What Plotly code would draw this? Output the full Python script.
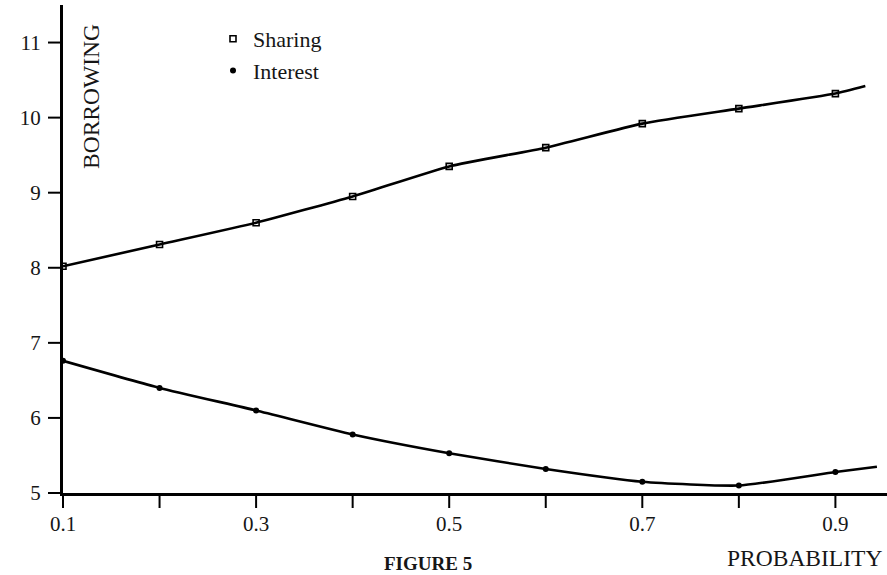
import plotly.graph_objects as go

# Probability values where each curve was evaluated
probability = [0.1, 0.2, 0.3, 0.4, 0.5, 0.6, 0.7, 0.8, 0.9]

# Borrowing under each contract type
sharing = [8.02, 8.31, 8.60, 8.95, 9.35, 9.60, 9.92, 10.12, 10.32]
interest = [6.76, 6.40, 6.10, 5.78, 5.53, 5.32, 5.15, 5.10, 5.28]

# Curves continue a little past the last marked point
sharing_tail = (0.931, 10.42)
interest_tail = (0.943, 5.35)

x_ticks = [0.1, 0.2, 0.3, 0.4, 0.5, 0.6, 0.7, 0.8, 0.9]
x_tick_text = ["0.1", "", "0.3", "", "0.5", "", "0.7", "", "0.9"]
y_ticks = [5, 6, 7, 8, 9, 10, 11]

SERIF = "Liberation Serif, Times New Roman, serif"
INK = "black"
TEXT = "#161616"

W, H = 887, 575
LEFT, BOTTOM, TOP = 63, 82, 5          # frame of the plotting box, px
X_RANGE = [0.1, 0.1 + (W - LEFT) / 965.5]
Y_RANGE = [5, 11.5]
PX_PER_X = (W - LEFT) / (X_RANGE[1] - X_RANGE[0])
PX_PER_Y = (H - BOTTOM - TOP) / (Y_RANGE[1] - Y_RANGE[0])
TICK_LEN = 15

fig = go.Figure()

# Smooth curves through every point
for ys, tail in ((sharing, sharing_tail), (interest, interest_tail)):
    fig.add_trace(go.Scatter(
        x=probability + [tail[0]], y=ys + [tail[1]],
        mode="lines", line=dict(color=INK, width=2.6, shape="spline", smoothing=0.5),
        showlegend=False, hoverinfo="skip",
    ))

# Point markers on the curves (these also provide the legend entries)
fig.add_trace(go.Scatter(
    x=probability, y=sharing, mode="markers", name="Sharing",
    marker=dict(symbol="square-open", size=6, color=INK, line=dict(width=1.6, color=INK)),
))
fig.add_trace(go.Scatter(
    x=probability, y=interest, mode="markers", name="Interest",
    marker=dict(symbol="circle", size=6, color=INK),
))

# Outward tick marks, drawn on a full-page companion axis pair that shares
# the data scale of the main axes but extends into the surrounding frame
tick_x, tick_y = [], []
for v in x_ticks:
    tick_x += [v, v, None]
    tick_y += [Y_RANGE[0], Y_RANGE[0] - TICK_LEN / PX_PER_Y, None]
for v in y_ticks:
    tick_x += [X_RANGE[0], X_RANGE[0] - TICK_LEN / PX_PER_X, None]
    tick_y += [v, v, None]
fig.add_trace(go.Scatter(
    x=tick_x, y=tick_y, xaxis="x2", yaxis="y2", mode="lines",
    line=dict(color=INK, width=2), showlegend=False, hoverinfo="skip",
))

fig.update_layout(
    width=W, height=H,
    margin=dict(l=0, r=0, t=0, b=0, pad=0),
    paper_bgcolor="white", plot_bgcolor="rgba(0,0,0,0)",
    font=dict(family=SERIF, size=21, color=TEXT),
    showlegend=True,
    legend=dict(
        x=213 / W, y=1 - 18 / H, xanchor="left", yanchor="top",
        bgcolor="rgba(0,0,0,0)", font=dict(family=SERIF, size=22, color=TEXT),
        itemwidth=30,
    ),
    xaxis=dict(
        domain=[LEFT / W, 1], anchor="y", automargin=False,
        range=X_RANGE, tickmode="array", tickvals=x_ticks, ticktext=x_tick_text,
        showline=True, linecolor=INK, linewidth=3,
        ticks="outside", ticklen=10, tickwidth=2, tickcolor="rgba(0,0,0,0)",
        showgrid=False, zeroline=False,
        tickfont=dict(family=SERIF, size=21, color=TEXT),
    ),
    yaxis=dict(
        domain=[BOTTOM / H, 1 - TOP / H], anchor="x", automargin=False,
        range=Y_RANGE, tickmode="array", tickvals=y_ticks, ticksuffix="  ",
        showline=True, linecolor=INK, linewidth=3,
        ticks="outside", ticklen=TICK_LEN, tickwidth=2, tickcolor="rgba(0,0,0,0)",
        showgrid=False, zeroline=False,
        tickfont=dict(family=SERIF, size=21, color=TEXT),
    ),
    xaxis2=dict(
        domain=[0, 1], anchor="y2", visible=False, automargin=False,
        range=[X_RANGE[0] - LEFT / PX_PER_X, X_RANGE[1]],
    ),
    yaxis2=dict(
        domain=[0, 1], anchor="x2", visible=False, automargin=False,
        range=[Y_RANGE[0] - BOTTOM / PX_PER_Y, Y_RANGE[1] + TOP / PX_PER_Y],
    ),
    annotations=[
        dict(text="BORROWING", textangle=-90, xref="paper", yref="paper",
             x=91 / W, y=1 - 97 / H, xanchor="center", yanchor="middle",
             showarrow=False, font=dict(family=SERIF, size=23.5, color=TEXT)),
        dict(text="PROBABILITY", xref="paper", yref="paper",
             x=804 / W, y=1 - 558 / H, xanchor="center", yanchor="middle",
             showarrow=False, font=dict(family=SERIF, size=23.5, color=TEXT)),
        dict(text="<b>FIGURE 5</b>", xref="paper", yref="paper",
             x=428 / W, y=1 - 563 / H, xanchor="center", yanchor="middle",
             showarrow=False, font=dict(family=SERIF, size=19, color=TEXT)),
    ],
)

fig.write_html("out.html")
